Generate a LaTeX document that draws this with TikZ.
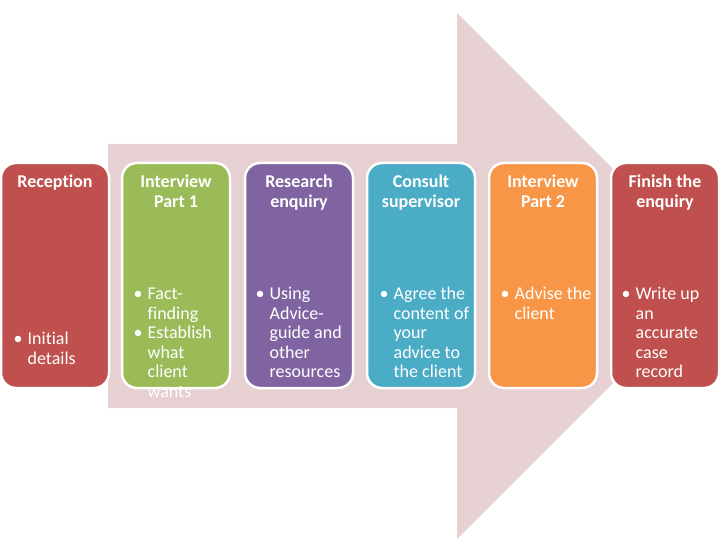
\documentclass[tikz,border=0pt]{standalone}
\usepackage{fontspec}
\setmainfont{Carlito}[Ligatures=NoCommon]
\definecolor{arrowpink}{RGB}{230,208,209}
\definecolor{boxred}{RGB}{192,80,77}
\definecolor{boxgreen}{RGB}{155,187,89}
\definecolor{boxpurple}{RGB}{128,100,162}
\definecolor{boxblue}{RGB}{75,172,198}
\definecolor{boxorange}{RGB}{247,150,70}
\newcommand{\headfont}{\fontsize{18}{20}\selectfont\bfseries}
\newcommand{\bodyfont}{\fontsize{18}{19.5}\selectfont}
\newcommand{\pt}{\textbullet}

\begin{document}
\begin{tikzpicture}[x=1pt, y=-1pt,
	stage/.style={draw=white, line width=2.5pt, rounded corners=15pt,
		minimum width=108pt, minimum height=225pt, inner sep=0pt},
	head/.style={anchor=north, inner sep=0pt, text=white, font=\headfont},
	body/.style={anchor=north west, inner sep=0pt, text=white, font=\bodyfont}]
	
	\useasboundingbox (0,0) rectangle (720,540);
	
	% grosser Pfeil
	\fill[arrowpink] (108,144) -- (457,144) -- (457,13) -- (720,276)
	-- (457,539) -- (457,408) -- (108,408) -- cycle;
	
	% Kaesten
	\node[stage, fill=boxred] (reception) at (55,275.5) {};
	\node[stage, fill=boxgreen] (interviewone) at (176,275.5) {};
	\node[stage, fill=boxpurple] (research) at (299,275.5) {};
	\node[stage, fill=boxblue] (consult) at (421,275.5) {};
	\node[stage, fill=boxorange] (interviewtwo) at (543,275.5) {};
	\node[stage, fill=boxred] (finish) at (665,275.5) {};
	
	% Ueberschriften
	\node[head] (receptionhead) at (55,173.5) {\begin{tabular}{@{}c@{}}Reception\end{tabular}};
	\node[head] (interviewonehead) at (176,173.5) {\begin{tabular}{@{}c@{}}Interview\\Part 1\end{tabular}};
	\node[head] (researchhead) at (299,173.5) {\begin{tabular}{@{}c@{}}Research\\enquiry\end{tabular}};
	\node[head] (consulthead) at (421,173.5) {\begin{tabular}{@{}c@{}}Consult\\supervisor\end{tabular}};
	\node[head] (interviewtwohead) at (543,173.5) {\begin{tabular}{@{}c@{}}Interview\\Part 2\end{tabular}};
	\node[head] (finishhead) at (665,173.5) {\begin{tabular}{@{}c@{}}Finish the\\enquiry\end{tabular}};
	
	% Stichpunkte
	\node[body] (receptionbody) at (13.5,331) {\begin{tabular}{@{}l@{\hspace{5pt}}l@{}}
		\pt & Initial\\ & details\end{tabular}};
	\node[body] (interviewonebody) at (133.5,286) {\begin{tabular}{@{}l@{\hspace{5pt}}l@{}}
		\pt & Fact-\\ & finding\\ \pt & Establish\\ & what\\ & client\\ & wants\end{tabular}};
	\node[body] (researchbody) at (255.5,286) {\begin{tabular}{@{}l@{\hspace{5pt}}l@{}}
		\pt & Using\\ & Advice-\\ & guide and\\ & other\\ & resources\end{tabular}};
	\node[body] (consultbody) at (379.5,286) {\begin{tabular}{@{}l@{\hspace{5pt}}l@{}}
		\pt & Agree the\\ & content of\\ & your\\ & advice to\\ & the client\end{tabular}};
	\node[body] (interviewtwobody) at (500.5,286) {\begin{tabular}{@{}l@{\hspace{5pt}}l@{}}
		\pt & Advise the\\ & client\end{tabular}};
	\node[body] (finishbody) at (621.5,286) {\begin{tabular}{@{}l@{\hspace{5pt}}l@{}}
		\pt & Write up\\ & an\\ & accurate\\ & case\\ & record\end{tabular}};
	
\end{tikzpicture}
\end{document}
